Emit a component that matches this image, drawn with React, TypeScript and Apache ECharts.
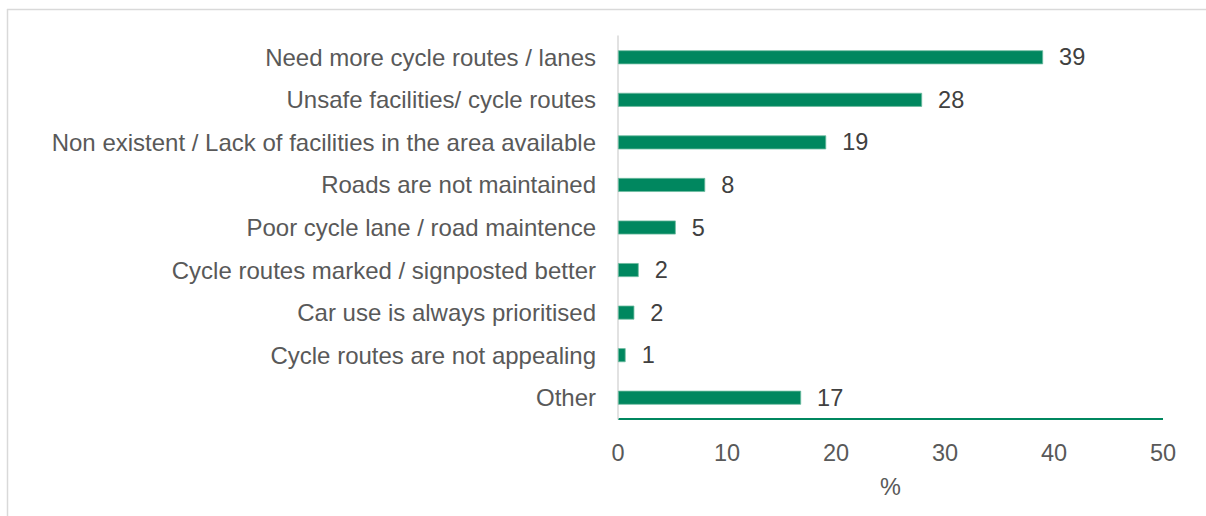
import React, { useEffect, useRef } from "react";
import * as echarts from "echarts";

const categories = [
  "Need more cycle routes / lanes",
  "Unsafe facilities/ cycle routes",
  "Non existent / Lack of facilities in the area available",
  "Roads are not maintained",
  "Poor cycle lane / road maintence",
  "Cycle routes marked / signposted better",
  "Car use is always prioritised",
  "Cycle routes are not appealing",
  "Other",
];
const values = [39, 27.9, 19.1, 8.0, 5.3, 1.9, 1.5, 0.7, 16.8];
const valueLabels = ["39", "28", "19", "8", "5", "2", "2", "1", "17"];
const xTicks = [0, 10, 20, 30, 40, 50];

export default function App() {
  const ref = useRef<HTMLDivElement>(null);
  useEffect(() => {
    if (!ref.current) return;
    const chart = echarts.init(ref.current, null, { renderer: "svg" });
    const font = "'Liberation Sans', Arial, sans-serif";
    chart.setOption({
      animation: false,
      backgroundColor: "#ffffff",
      textStyle: { fontFamily: font },
      grid: { left: 618, right: 43, top: 36, bottom: 97, containLabel: false },
      xAxis: {
        type: "value",
        min: xTicks[0],
        max: xTicks[xTicks.length - 1],
        interval: 10,
        name: "%",
        nameLocation: "middle",
        nameGap: 56,
        nameTextStyle: { fontSize: 23.5, color: "#595959", fontFamily: font },
        axisLine: { show: false },
        axisTick: { show: false },
        splitLine: { show: false },
        axisLabel: { fontSize: 23.5, color: "#595959", margin: 22, fontFamily: font },
      },
      yAxis: {
        type: "category",
        inverse: true,
        data: categories,
        axisLine: { show: true, lineStyle: { color: "#d9d9d9", width: 1.5 } },
        axisTick: { show: false },
        axisLabel: { fontSize: 24, color: "#595959", margin: 22, fontFamily: font },
      },
      graphic: [
        { type: "line", shape: { x1: 7.5, y1: 9, x2: 7.5, y2: 516 }, style: { stroke: "#d9d9d9", lineWidth: 1.5 } },
        { type: "line", shape: { x1: 7, y1: 9.5, x2: 1206, y2: 9.5 }, style: { stroke: "#d9d9d9", lineWidth: 1.5 } },
        { type: "line", shape: { x1: 618, y1: 419, x2: 1163, y2: 419 }, style: { stroke: "#00875f", lineWidth: 2 } },
      ],
      series: [
        {
          type: "bar",
          data: values,
          barWidth: 14,
          itemStyle: { color: "#00875f", borderColor: "#6dbba0", borderWidth: 0.8 },
          label: {
            show: true,
            position: "right",
            distance: 16,
            fontSize: 23.5,
            color: "#404040",
            fontFamily: font,
            formatter: (p: any) => valueLabels[p.dataIndex],
          },
        },
      ],
    });
    return () => chart.dispose();
  }, []);
  return (
    <div
      ref={ref}
      style={{ position: "absolute", left: 0, top: 0, width: 1206, height: 516 }}
    />
  );
}
